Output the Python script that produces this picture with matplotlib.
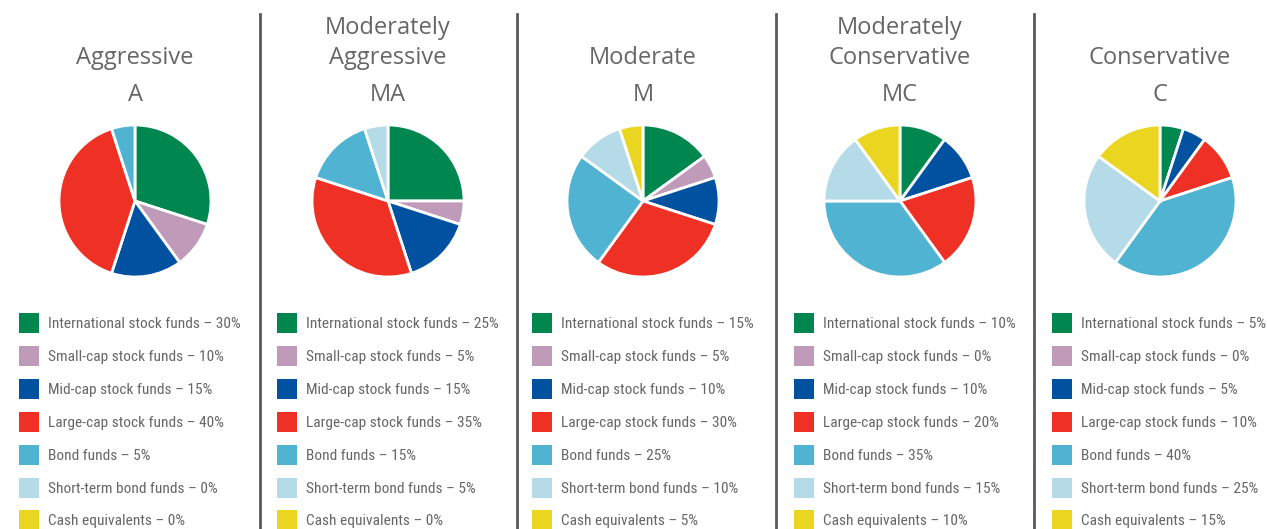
import matplotlib
matplotlib.use("Agg")
import matplotlib.pyplot as plt
from matplotlib.patches import Rectangle
from matplotlib import font_manager
from matplotlib.font_manager import FontProperties
import os

titles = [["Aggressive", "A"], ["Moderately", "Aggressive", "MA"], ["Moderate", "M"],
          ["Moderately", "Conservative", "MC"], ["Conservative", "C"]]
categories = ["International stock funds", "Small-cap stock funds", "Mid-cap stock funds",
              "Large-cap stock funds", "Bond funds", "Short-term bond funds", "Cash equivalents"]
values = {
    "A":  [30, 10, 15, 40, 5, 0, 0],
    "MA": [25, 5, 15, 35, 15, 5, 0],
    "M":  [15, 5, 10, 30, 25, 10, 5],
    "MC": [10, 0, 10, 20, 35, 15, 10],
    "C":  [5, 0, 5, 10, 40, 25, 15],
}
colors = ["#00874F", "#C09AB9", "#0051A0", "#EE3124", "#4FB3D1", "#B5DBE8", "#EAD620"]

W, H = 1267, 529
fig = plt.figure(figsize=(W / 100, H / 100), dpi=100)
fig.patch.set_facecolor("white")

# pick a condensed font file for legend text
leg_path = None
prefs = ["LiberationSansNarrow-Regular", "RobotoCondensed-Regular", "OpenSansCondensed",
         "DejaVuSansCondensed.ttf"]
files = [f.fname for f in font_manager.fontManager.ttflist]
for p in prefs:
    for f in files:
        if p in os.path.basename(f):
            leg_path = f
            break
    if leg_path:
        break
if leg_path:
    leg_fp = FontProperties(fname=leg_path, size=11.05)
    base = os.path.basename(leg_path)
    if "DejaVu" in base:
        leg_fp.set_size(10.8)
else:
    leg_fp = FontProperties(family="DejaVu Sans", size=9.5)

title_font = "Open Sans"
txt_color = "#666666"

centers = [135, 388, 643, 900, 1160]
legend_x = [19, 277, 532, 794, 1052]
dividers = [260, 517, 776, 1034]
r = 76
cy = 201
row_y = [323, 356, 389, 422, 455, 488, 520]

for d in dividers:
    fig.add_artist(plt.Line2D([d / W, d / W], [0, 1 - 14 / H], color="#5a5a5a", lw=2))

for i, t in enumerate(titles):
    code = t[-1]
    vals = values[code]
    cx = centers[i]
    lines = t[:-1]
    ys = [58] if len(lines) == 1 else [28, 58]
    for ln, yy in zip(lines, ys):
        fig.text(cx / W, 1 - yy / H, ln, ha="center", va="center", fontsize=17,
                 family=title_font, color=txt_color)
    fig.text(cx / W, 1 - 95 / H, code, ha="center", va="center", fontsize=17,
             family=title_font, color=txt_color)
    ax = fig.add_axes([(cx - r - 2) / W, 1 - (cy + r + 2) / H, (2 * r + 4) / W, (2 * r + 4) / H])
    nz = [(v, c) for v, c in zip(vals, colors) if v > 0]
    ax.pie([v for v, _ in nz], colors=[c for _, c in nz], startangle=90, counterclock=False,
           radius=1.0, wedgeprops=dict(edgecolor="white", linewidth=2))
    ax.set_xlim(-1.0 * (r + 2) / r, (r + 2) / r)
    ax.set_ylim(-1.0 * (r + 2) / r, (r + 2) / r)
    ax.set_aspect("equal")
    ax.axis("off")
    lx = legend_x[i]
    for j, (cat, v) in enumerate(zip(categories, vals)):
        y = row_y[j]
        fig.add_artist(Rectangle((lx / W, 1 - (y + 10) / H), 20 / W, 20 / H,
                                 facecolor=colors[j], edgecolor="none", transform=fig.transFigure))
        fig.text((lx + 29) / W, 1 - (y + 1) / H, f"{cat} \u2013 {v}%", ha="left", va="center",
                 fontproperties=leg_fp, color=txt_color)

fig.savefig("out.png", dpi=100)
